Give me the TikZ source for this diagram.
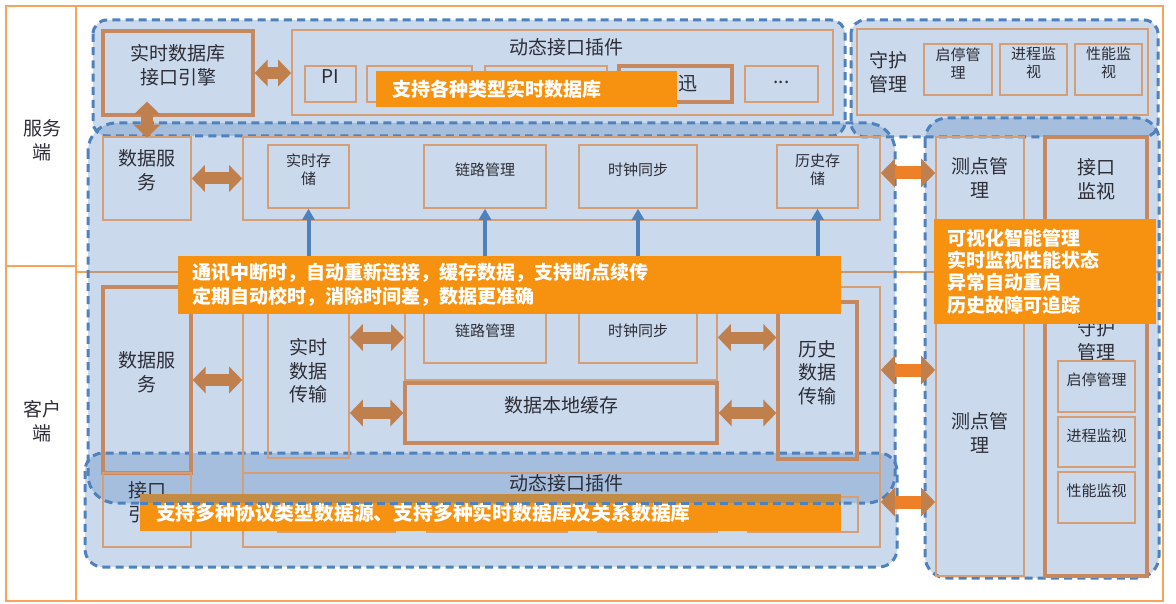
\documentclass[tikz,border=0pt]{standalone}
\usepackage{fontspec}
\setmainfont{Noto Sans CJK SC}
\usetikzlibrary{arrows.meta,fit,positioning}
\definecolor{framec}{RGB}{248,163,90}
\definecolor{zonec}{RGB}{79,129,189}
\definecolor{boxc}{RGB}{214,158,116}
\definecolor{boxd}{RGB}{198,136,94}
\definecolor{arrc}{RGB}{192,128,77}
\definecolor{sidec}{RGB}{238,128,40}
\definecolor{notec}{RGB}{246,146,16}
\definecolor{txtc}{RGB}{45,45,55}
\begin{document}
\begin{tikzpicture}[x=0.5pt, y=-0.5pt,
  frame/.style={draw=framec, line width=1.1pt},
  zone/.style={draw=zonec, line width=1.5pt, dash pattern=on 4pt off 2.6pt, fill=zonec, fill opacity=0.3},
  box/.style={draw=boxc, line width=0.8pt, inner sep=0pt, align=center, text=txtc, font=\fontsize{9.5}{11.8}\selectfont},
  sbox/.style={box, font=\fontsize{7.5}{9}\selectfont},
  tbox/.style={box, draw=boxd, line width=1.6pt},
  lbl/.style={align=center, text=txtc, inner sep=0pt, font=\fontsize{9.5}{11.8}\selectfont},
  note/.style={fill=notec, inner sep=0pt},
  notetxt/.style={text=white, align=left, inner sep=0pt, font=\bfseries\fontsize{9.5}{12}\selectfont},
  dblarr/.style={draw=arrc, line width=6pt, {Triangle[width=13pt,length=6.5pt]}-{Triangle[width=13pt,length=6.5pt]}},
  sidearr/.style={draw=sidec, line width=6.5pt, {Triangle[color=arrc,width=14pt,length=7pt]}-{Triangle[color=arrc,width=14pt,length=7pt]}},
  uparr/.style={draw=zonec, line width=2pt, -{Triangle[width=6pt,length=5.5pt]}}]
  \useasboundingbox (0,0) rectangle (1176,604);
  \draw[frame] (6,6) rectangle (1163,601);
  \draw[frame] (76,6) -- (76,601);
  \draw[frame] (6,266) -- (76,266);
  \draw[frame] (76,272) -- (1163,272);
  \node[lbl, font=\fontsize{9.5}{12}\selectfont] (srvlbl) at (42,140) {服务\\端};
  \node[lbl, font=\fontsize{9.5}{12}\selectfont] (clilbl) at (42,421) {客户\\端};

  \draw[zone, rounded corners=7pt] (93,20) rectangle (845,136);
  \draw[zone, rounded corners=7pt] (851,20) rectangle (1158,137);
  \draw[zone, rounded corners=14pt] (88,123) rectangle (895,503);
  \draw[zone, rounded corners=9pt] (85,453) rectangle (897,567);
  \draw[zone, rounded corners=11pt] (925,118) rectangle (1159,578);

  \node[tbox, fit={(103,31) (253,115)}] (engine) {实时数据库\\接口引擎};
  \node[box, fit={(292,30) (833,115)}] (plug) {};
  \node[lbl] (plugttl) at (566,47) {动态接口插件};
  \node[box, fit={(305,66) (356,102)}] (pi) {PI};
  \node[box, fit={(367,66) (472,102)}] (db2) {};
  \node[box, fit={(485,66) (607,102)}] (db3) {};
  \node[tbox, fit={(619,66) (732,102)}] (db4) {};
  \node[lbl] (db4txt) at (688,84) {迅};
  \node[box, fit={(745,66) (818,102)}] (more) {...};

  \node[box, fit={(857,29) (1148,115)}] (guard) {};
  \node[lbl] (guardttl) at (888,72) {守护\\管理};
  \foreach \nm/\xa/\xb/\t in {gs/924/992/{启停管\\理}, gp/1000/1067/{进程监\\视}, gf/1075/1142/{性能监\\视}}
    \node[sbox, fit={(\xa,44) (\xb,95)}] (\nm) {\t};

  \node[box, fit={(103,137) (191,220)}] (dsvc) {数据服\\务};
  \node[box, fit={(243,137) (880,220)}] (srvrow) {};
  \node[sbox, fit={(268,145) (349,208)}] (rtstore) {实时存\\储};
  \node[sbox, fit={(424,145) (546,208)}] (link1) {链路管理};
  \node[sbox, fit={(579,145) (697,208)}] (clock1) {时钟同步};
  \node[sbox, fit={(777,145) (858,208)}] (hist1) {历史存\\储};

  \node[tbox, fit={(103,287) (191,473)}] (dsvc2) {数据服\\务};
  \node[box, fit={(243,287) (880,473)}] (cli) {};
  \node[box, fit={(268,300) (349,458)}] (rtx) {实时\\数据\\传输};
  \node[box, fit={(405,290) (717,380)}] (mgr) {};
  \node[sbox, fit={(424,312) (546,363)}] (link2) {链路管理};
  \node[sbox, fit={(579,312) (697,363)}] (clock2) {时钟同步};
  \node[tbox, fit={(405,383) (717,443)}] (cache) {数据本地缓存};
  \node[tbox, fit={(778,302) (857,459)}] (hist2) {历史\\数据\\传输};
  \node[box, fit={(103,473) (191,547)}] (iface2) {接口\\引擎};
  \node[box, fit={(243,473) (880,547)}] (plug2) {};
  \node[lbl] (plug2ttl) at (566,483) {动态接口插件};
  \foreach \nm/\xa/\xb in {pa/278/395, pb/427/567, pc/598/717, pd/748/858}
    \node[box, fit={(\xa,497) (\xb,532)}] (\nm) {};

  \node[box, fit={(936,137) (1024,576)}] (ptcol) {};
  \node[tbox, fit={(1045,137) (1147,576)}] (rcol) {};
  \node[lbl] (pt1) at (980,178) {测点管\\理};
  \node[lbl] (pt2) at (980,433) {测点管\\理};
  \node[lbl] (mon) at (1096,179) {接口\\监视};
  \node[lbl] (guard2) at (1096,340) {守护\\管理};
  \foreach \nm/\ya/\yb/\t in {gs2/361/412/启停管理, gp2/417/467/进程监视, gf2/472/523/性能监视}
    \node[sbox, fit={(1058,\ya) (1135,\yb)}] (\nm) {\t};

  \draw[dblarr] (engine.east) -- (plug.west |- engine.east);
  \draw[dblarr] ([yshift=-0.75pt]dsvc.north) -- ([yshift=7.5pt]engine.south -| dsvc.north);
  \draw[dblarr] (dsvc.east) -- (srvrow.west);
  \draw[dblarr] (dsvc2.east) -- (cli.west |- dsvc2.east);
  \draw[dblarr] (iface2.east) -- (plug2.west |- iface2.east);
  \draw[dblarr] (rtx.east |- link2) -- (mgr.west |- link2);
  \draw[dblarr] (rtx.east |- cache) -- (cache.west);
  \draw[dblarr] (mgr.east |- link2) -- (hist2.west |- link2);
  \draw[dblarr] (cache.east) -- (hist2.west |- cache.east);
  \foreach \a/\b in {rtx/rtstore, link2/link1, clock2/clock1, hist2/hist1}
    \draw[uparr] (\a.north) -- (\b.south);
  \draw[sidearr] (srvrow.east |- 0,173) -- (ptcol.west |- 0,173);
  \draw[sidearr] (cli.east |- 0,370) -- (ptcol.west |- 0,370);
  \draw[sidearr] (plug2.east |- 0,502) -- (ptcol.west |- 0,502);

  \node[note, fit={(376,71) (677,107)}] (topnote) {};
  \node[notetxt, anchor=west] (toptxt) at ([xshift=8pt]topnote.west) {支持各种类型实时数据库};
  \node[note, fit={(178,256) (841,314)}] (midnote) {};
  \node[notetxt, anchor=west] (midtxt) at ([xshift=7pt]midnote.west) {通讯中断时，自动重新连接，缓存数据，支持断点续传\\定期自动校时，消除时间差，数据更准确};
  \node[note, fit={(934,219) (1156,324)}] (rnote) {};
  \node[notetxt, anchor=west, font=\bfseries\fontsize{9.5}{11.2}\selectfont] (rtxt) at ([xshift=6.5pt]rnote.west) {可视化智能管理\\实时监视性能状态\\异常自动重启\\历史故障可追踪};
  \node[note, fit={(140,494) (841,531)}] (botnote) {};
  \node[notetxt, anchor=west, font=\bfseries\fontsize{9.9}{12}\selectfont] (bottxt) at ([xshift=8pt]botnote.west) {支持多种协议类型数据源、支持多种实时数据库及关系数据库};
  \fill[zonec, fill opacity=0.3] (botnote.north west) rectangle (841,503);
  \draw[zonec, line width=1.5pt, dash pattern=on 4pt off 2.6pt] (botnote.west |- 0,503) -- (botnote.east |- 0,503);
\end{tikzpicture}
\end{document}
